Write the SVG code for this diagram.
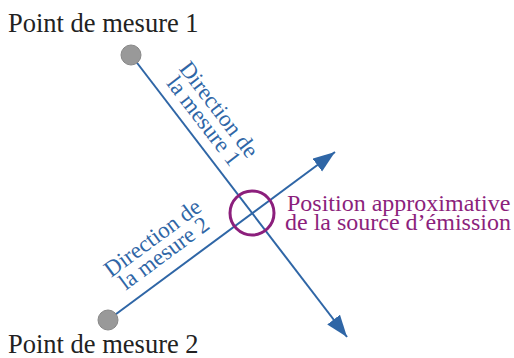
<svg xmlns="http://www.w3.org/2000/svg" width="514" height="358" viewBox="0 0 514 358">
<defs>
<marker id="arr" markerUnits="userSpaceOnUse" markerWidth="24" markerHeight="18" refX="22" refY="8" orient="auto">
<path d="M0,0 L22,8 L0,16 Z" fill="#2f66a6"/>
</marker>
<style>
.lbl{font-family:"Liberation Serif","DejaVu Serif",serif;}
.blk{fill:#222;font-size:26.5px;}
.blu{fill:#2f66a6;font-size:23px;}
.pur{fill:#8c1f7c;font-size:24px;}
.pt{fill:#999;stroke:#888;stroke-width:1;}
.dir{stroke:#2f66a6;stroke-width:2;fill:none;}
</style>
</defs>
<rect width="514" height="358" fill="#fff"/>
<g id="connectors">
<line class="dir" x1="131" y1="55" x2="347" y2="337" marker-end="url(#arr)"/>
<line class="dir" x1="108" y1="320" x2="335" y2="152" marker-end="url(#arr)"/>
</g>
<g id="point1">
<circle class="pt" cx="131" cy="55" r="10"/>
<text class="lbl blk" x="8" y="32">Point de mesure 1</text>
</g>
<g id="point2">
<circle class="pt" cx="108" cy="320" r="10"/>
<text class="lbl blk" x="8" y="353">Point de mesure 2</text>
</g>
<g id="label1" transform="translate(213,114) rotate(52.5)">
<text class="lbl blu" x="0" y="0" text-anchor="middle">Direction de</text>
<text class="lbl blu" x="0" y="19" text-anchor="middle">la mesure 1</text>
</g>
<g id="label2" transform="translate(157,244) rotate(-36.5)">
<text class="lbl blu" x="0" y="0" text-anchor="middle">Direction de</text>
<text class="lbl blu" x="0" y="19" text-anchor="middle">la mesure 2</text>
</g>
<g id="source">
<circle cx="252" cy="213" r="22" fill="none" stroke="#8c1f7c" stroke-width="3"/>
<text class="lbl pur" x="287" y="211">Position approximative</text>
<text class="lbl pur" x="285" y="230">de la source d’émission</text>
</g>
</svg>
